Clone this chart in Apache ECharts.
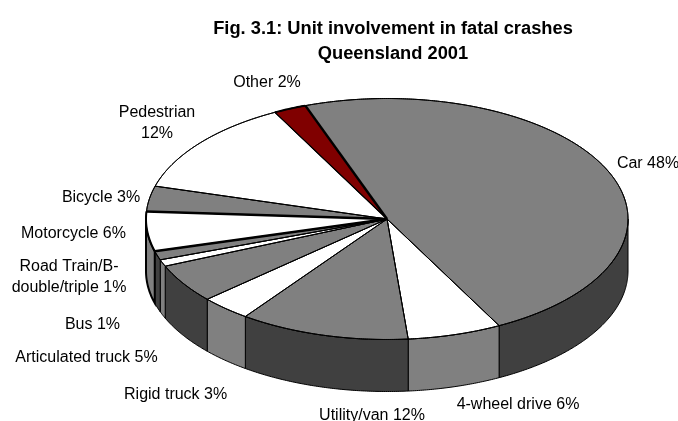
<!DOCTYPE html>
<html>
<head>
<meta charset="utf-8">
<style>html,body{margin:0;padding:0;background:#fff}#c{width:678px;height:421px}</style>
<script src="https://cdn.jsdelivr.net/npm/echarts@6/dist/echarts.min.js"></script>
</head>
<body>
<div id="c"></div>
<script>
// Data
const categories = ['Car','4-wheel drive','Utility/van','Rigid truck','Articulated truck','Bus','Road Train/B-double/triple','Motorcycle','Bicycle','Pedestrian','Other'];
const shares = [47.8,6.3,11.4,3.4,5.2,0.9,1.2,5.3,3.4,12.9,2.2];
const labelTexts = ['Car 48%','4-wheel drive 6%','Utility/van 12%','Rigid truck 3%','Articulated truck 5%','Bus 1%','Road Train/B-\ndouble/triple 1%','Motorcycle 6%','Bicycle 3%','Pedestrian\n12%','Other 2%'];
const titleText = 'Fig. 3.1: Unit involvement in fatal crashes\nQueensland 2001';

// Styles and layout
const topColors = ['#808080','#ffffff','#808080','#ffffff','#808080','#ffffff','#808080','#ffffff','#808080','#ffffff','#800000'];
const sideColors = ['#404040','#808080','#404040','#808080','#404040','#808080','#404040','#808080','#404040','#808080','#400000'];
const edgeWidths = [2.5,1,1,1,1,1,1,2.5,2.5,1,1.2];
const rimWidths = [1,1,1,1,1,1,1,2,1,1,2];
const labelCenters = [[648,163.5],[518,404.5],[372,415.5],[175.6,394.5],[86.5,358],[92.5,324.5],[69,277.5],[73.5,234],[101,197.5],[157,123],[267,83]];
const CX = 387, CY = 219, RX = 241, RY = 120.5, DEPTH = 52, START = -19.8;

const total = shares.reduce((a,b)=>a+b,0);
const startAngles = [];
shares.reduce((acc,v,i)=>{startAngles[i]=acc;return acc+v/total*360;},START);
const rim = (t,dy=0)=>{const r=t*Math.PI/180;return [CX+RX*Math.sin(r),CY-RY*Math.cos(r)+dy];};
const arc = (a,b,dy=0)=>{const p=[];const n=Math.max(2,Math.ceil((b-a)*2));for(let i=0;i<=n;i++)p.push(rim(a+(b-a)*i/n,dy));return p;};

function sideItem(params,api){
  const i=params.dataIndex;
  const t0=startAngles[i], t1=t0+api.value(0)/total*360;
  const a=Math.max(t0,90), b=Math.min(t1,270);
  if(b<=a) return {type:'group',children:[]};
  const pts=arc(a,b).concat(arc(a,b,DEPTH).reverse());
  return {type:'polygon',shape:{points:pts},style:{fill:sideColors[i],stroke:'#000',lineWidth:rimWidths[i]}};
}
function topItem(params,api){
  const i=params.dataIndex;
  const t0=startAngles[i], t1=t0+api.value(0)/total*360;
  const pts=[[CX,CY]].concat(arc(t0,t1));
  const e=rim(t0);
  return {type:'group',children:[
    {type:'polygon',shape:{points:pts},style:{fill:topColors[i],stroke:'#000',lineWidth:1,lineJoin:'round'}},
    {type:'polyline',shape:{points:arc(t0,t1)},style:{fill:null,stroke:'#000',lineWidth:rimWidths[i]},z2:2},
    {type:'line',shape:{x1:CX,y1:CY,x2:e[0],y2:e[1]},style:{stroke:'#000',lineWidth:edgeWidths[i]},z2:3}
  ]};
}
function labelItem(params){
  const i=params.dataIndex;
  return {type:'text',x:labelCenters[i][0],y:labelCenters[i][1],
    style:{text:labelTexts[i],fill:'#000',font:'16px "Liberation Sans", Arial, sans-serif',align:'center',verticalAlign:'middle',lineHeight:21}};
}
const option={
  animation:false,
  backgroundColor:'#fff',
  title:{text:titleText,left:388,top:11.5,textAlign:'center',
    textStyle:{fontFamily:'"Liberation Sans", Arial, sans-serif',fontSize:18.3,fontWeight:'bold',color:'#000',lineHeight:25}},
  series:[
    {type:'custom',name:'sides',coordinateSystem:'none',data:shares,renderItem:sideItem,silent:true,z:1},
    {type:'custom',name:'tops',coordinateSystem:'none',data:shares,renderItem:topItem,silent:true,z:2},
    {type:'custom',name:'labels',coordinateSystem:'none',data:shares,renderItem:labelItem,silent:true,z:3}
  ]
};
echarts.init(document.getElementById('c'),null,{renderer:'canvas'}).setOption(option);
</script>
</body>
</html>
